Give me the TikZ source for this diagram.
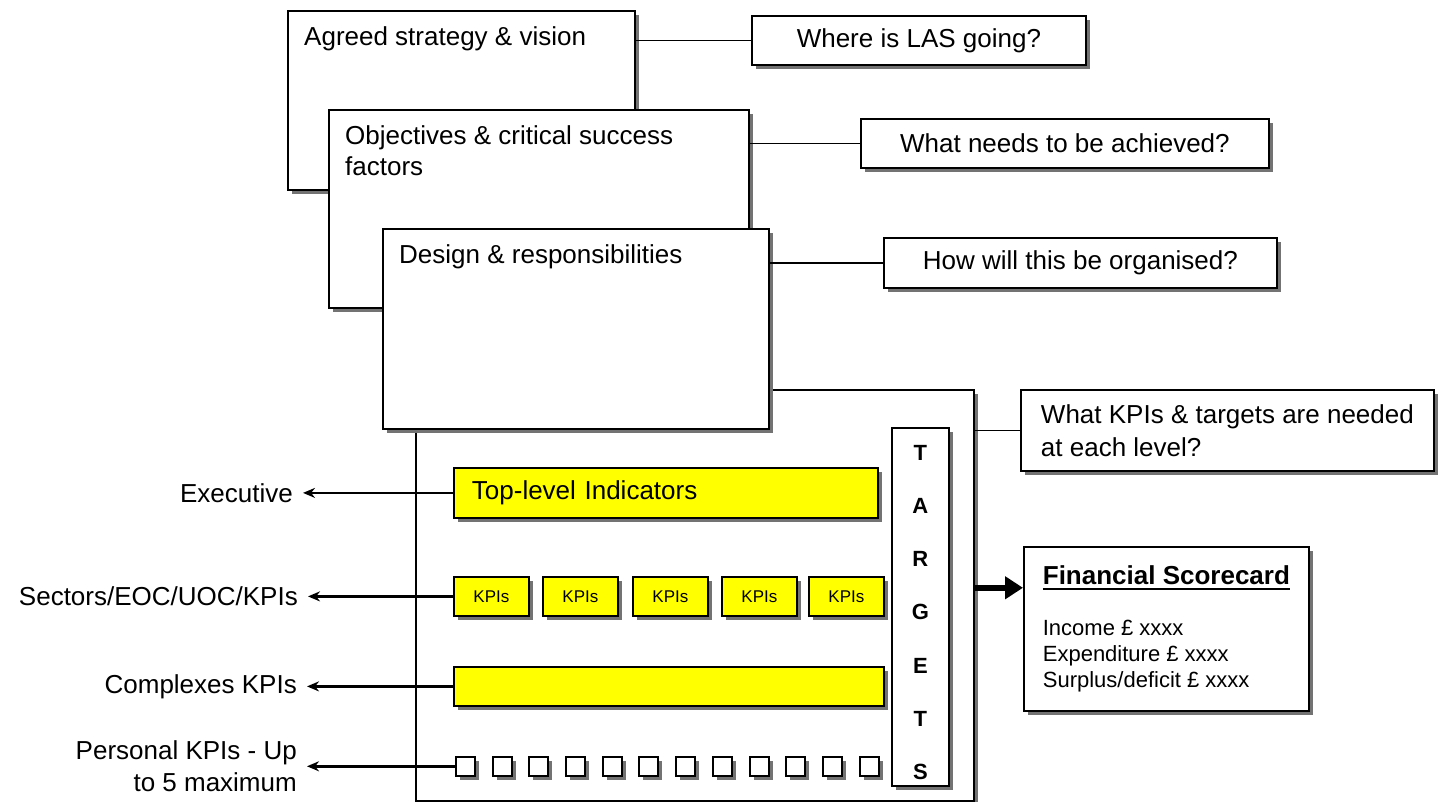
\documentclass[tikz,border=0pt]{standalone}
\usepackage{fontspec}
\setmainfont{Liberation Sans}
\usetikzlibrary{arrows.meta, positioning, shadows}
\definecolor{kpiyellow}{RGB}{255,255,0}

% thick underline for the scorecard title
\newcommand{\scoreul}[1]{\setbox0=\hbox{#1}\rlap{\vrule width\wd0 height -3pt depth 5pt}\box0}

\begin{document}
\begin{tikzpicture}[
  x=1pt, y=-1pt,
  font=\fontsize{26}{31}\selectfont,
  boxshadow/.style={drop shadow={shadow xshift=4pt, shadow yshift=-4pt,
                    fill=black!55, opacity=1}},
  plainbox/.style={rectangle, draw=black, line width=1.8pt, fill=white,
                   anchor=north west, inner sep=0pt, boxshadow},
  boxlbl/.style={anchor=north west, inner sep=0pt, align=left,
                 xshift=17pt, yshift=-16pt},
  askbox/.style={plainbox},
  ylwbox/.style={plainbox, fill=kpiyellow},
  kpibox/.style={ylwbox, minimum width=75pt, minimum height=39pt,
                 font=\fontsize{17}{20}\selectfont},
  tickbox/.style={plainbox, line width=1.6pt, minimum size=19pt},
  sidelbl/.style={inner xsep=10pt, inner ysep=2pt, align=right},
  link/.style={line width=1.3pt},
  toarr/.style={-{Stealth[length=12pt, width=10pt]}, line width=2.5pt},
  bigarr/.style={-{Triangle[length=18pt, width=22pt]}, line width=6pt}
]
\useasboundingbox (0,0) rectangle (1439,802);

% stacked planning boxes
\node[plainbox, minimum width=347pt, minimum height=179pt,
      label={[boxlbl]north west:Agreed strategy \& vision}] (strategy) at (287,10) {};
\node[plainbox, minimum width=420pt, minimum height=198pt,
      label={[boxlbl]north west:{Objectives \& critical success\\factors}}] (objectives) at (328,109) {};
\node[plainbox, minimum width=558pt, minimum height=411pt] (kpiframe) at (415,389) {};
\node[plainbox, minimum width=386pt, minimum height=200pt,
      label={[boxlbl]north west:Design \& responsibilities}] (design) at (382,228) {};

% questions on the right
\node[askbox, minimum width=334pt, minimum height=49pt] (qgoing) at (751,15) {Where is LAS going?};
\node[askbox, minimum width=408pt, minimum height=49pt] (qachieve) at (860,118) {What needs to be achieved?};
\node[askbox, minimum width=393pt, minimum height=50pt] (qorganise) at (883,237) {How will this be organised?};
\node[askbox, minimum width=413pt, minimum height=81pt, align=left,
      font=\fontsize{26}{33}\selectfont] (qlevels) at (1020,389) {What KPIs \& targets are needed\\at each level?};
\draw[link] (strategy.east |- qgoing.west) -- (qgoing.west);
\draw[link] (objectives.east |- qachieve.west) -- (qachieve.west);
\draw[link] (design.east |- qorganise.west) -- (qorganise.west);
\draw[link] (kpiframe.east |- qlevels.west) -- (qlevels.west);

% indicator levels
\node[ylwbox, minimum width=424pt, minimum height=50pt, text width=388pt,
      inner xsep=18pt, align=left] (toplevel) at (453,467) {Top-level Indicators};
\node[kpibox] (kpi1) at (453,576) {KPIs}; \node[kpibox] (kpi2) at (542,576) {KPIs};
\node[kpibox] (kpi3) at (632,576) {KPIs}; \node[kpibox] (kpi4) at (721,576) {KPIs};
\node[kpibox] (kpi5) at (808,576) {KPIs};
\node[ylwbox, minimum width=430pt, minimum height=39pt] (complexes) at (453,666) {};
\node[tickbox] (tick1) at (455,756) {};  \node[tickbox] (tick2) at (492,756) {};
\node[tickbox] (tick3) at (528,756) {};  \node[tickbox] (tick4) at (565,756) {};
\node[tickbox] (tick5) at (602,756) {};  \node[tickbox] (tick6) at (638,756) {};
\node[tickbox] (tick7) at (675,756) {};  \node[tickbox] (tick8) at (712,756) {};
\node[tickbox] (tick9) at (749,756) {};  \node[tickbox] (tick10) at (785,756) {};
\node[tickbox] (tick11) at (822,756) {}; \node[tickbox] (tick12) at (859,756) {};
\node[plainbox, minimum width=57pt, minimum height=358pt, align=center,
      font=\fontsize{22}{53.2}\selectfont\bfseries] (targets) at (891,427)
  {\rule{0pt}{26pt}T\\A\\R\\G\\E\\T\\S};

% level names on the left
\node[sidelbl, left=150pt of toplevel.west] (exec) {Executive};
\node[sidelbl, left=145pt of kpi1.west] (sectors) {Sectors/EOC/UOC/KPIs};
\node[sidelbl, left=146pt of complexes.west] (cmplx) {Complexes KPIs};
\node[sidelbl, left=148pt of tick1.west, font=\fontsize{26}{32}\selectfont] (personal) {Personal KPIs - Up\\to 5 maximum};
\draw[toarr] (toplevel.west) -- (exec.east);
\draw[toarr] (kpi1.west) -- (sectors.east);
\draw[toarr] (complexes.west) -- (cmplx.east);
\draw[toarr] (tick1.west) -- (personal.east);

% financial scorecard
\node[plainbox, minimum width=285pt, minimum height=164pt, align=left,
      font=\fontsize{22}{26}\selectfont] (finance) at (1023,546)
  {{\fontsize{26}{26}\selectfont\bfseries\scoreul{Financial Scorecard}}\\[25pt]Income £ xxxx\\Expenditure £ xxxx\\Surplus/deficit £ xxxx};
\draw[bigarr] (kpiframe.east |- finance.164) -- (finance.164);
\end{tikzpicture}
\end{document}
